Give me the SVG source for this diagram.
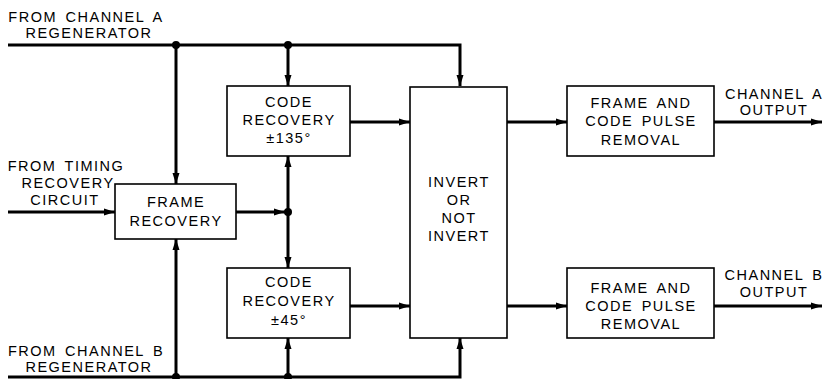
<svg xmlns="http://www.w3.org/2000/svg" width="825" height="379" viewBox="0 0 825 379">
<style>
.box{fill:#fff;stroke:#000;stroke-width:1.6}
.ln{fill:none;stroke:#000;stroke-width:3}
.ar{marker-end:url(#ah)}
text{font-family:"Liberation Sans",Arial,sans-serif;font-size:14.5px;letter-spacing:1.5px;word-spacing:3px;fill:#000}
.m{text-anchor:middle}
</style>
<defs>
<marker id="ah" markerUnits="userSpaceOnUse" markerWidth="12" markerHeight="8" refX="11" refY="4" orient="auto">
<path d="M0,0.5 L11,4 L0,7.5 z" fill="#000"/>
</marker>
</defs>
<rect width="825" height="379" fill="#fff"/>
<g id="connectors">
<path class="ln ar" d="M8,45 H460 V86"/>
<path class="ln ar" d="M176,45 V184"/>
<path class="ln ar" d="M288,45 V86"/>
<path class="ln ar" d="M8,212 H115"/>
<path class="ln ar" d="M236,212 H285"/>
<path class="ln ar" d="M288,212 V156"/>
<path class="ln ar" d="M288,212 V268"/>
<path class="ln ar" d="M350,122 H410"/>
<path class="ln ar" d="M350,306 H410"/>
<path class="ln ar" d="M8,377 H460 V338"/>
<path class="ln ar" d="M176,377 V239"/>
<path class="ln ar" d="M288,377 V338"/>
<path class="ln ar" d="M507,122 H567"/>
<path class="ln ar" d="M507,306 H567"/>
<path class="ln ar" d="M714,122 H822"/>
<path class="ln ar" d="M714,306 H822"/>
<circle cx="176" cy="45" r="4"/>
<circle cx="288" cy="45" r="4"/>
<circle cx="288" cy="212" r="4"/>
<circle cx="176" cy="377" r="4"/>
<circle cx="288" cy="377" r="4"/>
</g>
<g id="labels">
<text class="m" x="86" y="22">FROM CHANNEL A</text>
<text class="m" x="89" y="38">REGENERATOR</text>
<text class="m" x="66" y="171">FROM TIMING</text>
<text class="m" x="68" y="188">RECOVERY</text>
<text class="m" x="65" y="205">CIRCUIT</text>
<text class="m" x="86" y="356">FROM CHANNEL B</text>
<text class="m" x="89" y="372">REGENERATOR</text>
<text class="m" x="774" y="99">CHANNEL A</text>
<text class="m" x="774" y="115">OUTPUT</text>
<text class="m" x="774" y="280">CHANNEL B</text>
<text class="m" x="774" y="297">OUTPUT</text>
</g>
<g id="frame-recovery">
<rect class="box" x="115" y="184" width="121" height="55"/>
<text class="m" x="176" y="207">FRAME</text>
<text class="m" x="176" y="226">RECOVERY</text>
</g>
<g id="code-recovery-135">
<rect class="box" x="227" y="86" width="123" height="70"/>
<text class="m" x="289" y="107">CODE</text>
<text class="m" x="289" y="125">RECOVERY</text>
<text class="m" x="289" y="143">±135°</text>
</g>
<g id="code-recovery-45">
<rect class="box" x="227" y="268" width="123" height="70"/>
<text class="m" x="289" y="287">CODE</text>
<text class="m" x="289" y="306">RECOVERY</text>
<text class="m" x="289" y="325">±45°</text>
</g>
<g id="invert">
<rect class="box" x="410" y="87" width="97" height="251"/>
<text class="m" x="459" y="187">INVERT</text>
<text class="m" x="459" y="205">OR</text>
<text class="m" x="459" y="223">NOT</text>
<text class="m" x="459" y="241">INVERT</text>
</g>
<g id="removal-a">
<rect class="box" x="567" y="86" width="147" height="70"/>
<text class="m" x="641" y="108">FRAME AND</text>
<text class="m" x="641" y="126">CODE PULSE</text>
<text class="m" x="641" y="145">REMOVAL</text>
</g>
<g id="removal-b">
<rect class="box" x="567" y="268" width="147" height="70"/>
<text class="m" x="641" y="293">FRAME AND</text>
<text class="m" x="641" y="311">CODE PULSE</text>
<text class="m" x="641" y="329">REMOVAL</text>
</g>
</svg>
